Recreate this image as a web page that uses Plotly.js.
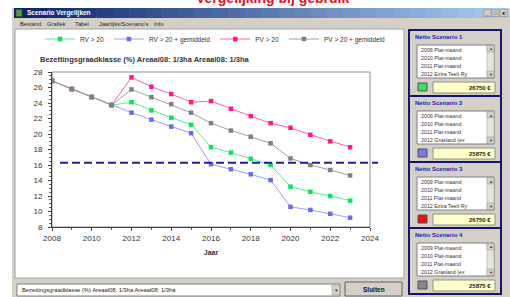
<!DOCTYPE html>
<html><head><meta charset="utf-8">
<script src="https://cdn.plot.ly/plotly-3.0.1.min.js"></script>
<style>html,body{margin:0;padding:0;background:#fff;overflow:hidden}#chart{width:510px;height:297px}</style>
</head><body><div id="chart"></div>
<script>
// ---- data ----
const years = [2008,2009,2010,2011,2012,2013,2014,2015,2016,2017,2018,2019,2020,2021,2022,2023];
const rv20    = [26.85,25.8,24.77,23.74,24.1,23.05,22.1,21.2,18.3,17.6,16.8,16.0,13.2,12.55,12.0,11.4];
const rv20gem = [26.85,25.8,24.77,23.74,22.75,21.85,20.95,20.1,16.1,15.45,14.8,14.05,10.6,10.2,9.7,9.2];
const pv20    = [26.85,25.8,24.77,23.74,27.3,26.1,25.15,24.1,24.25,23.25,22.3,21.4,20.8,19.9,19.05,18.3];
const pv20gem = [26.85,25.8,24.77,23.74,25.75,24.75,23.85,22.75,21.4,20.45,19.65,18.8,16.85,16.0,15.35,14.65];
const threshold = 16.3;
const seriesNames = ['RV > 20','RV > 20 + gemiddeld','PV > 20','PV > 20 + gemiddeld'];
const xTicks = [2008,2010,2012,2014,2016,2018,2020,2022,2024];
const yTicks = [8,10,12,14,16,18,20,22,24,26,28];
const chartTitle = 'Bezettingsgraadklasse (%) Areaal08: 1/3ha Areaal08: 1/3ha';
const xTitle = 'Jaar';
const windowTitle = 'Scenario Vergelijken';
const menuItems = ['Bestand','Grafiek','Tabel','Jaarlijks/Scenario\'s','Info'];
const scenarioTitles = ['Netto Scenario 1','Netto Scenario 2','Netto Scenario 3','Netto Scenario 4'];
const scenarioValues = ['26750 €','25875 €','26750 €','25875 €'];
const scenarioLines = [
  ['2009 Plat-maand','2010 Plat-maand','2011 Plat-maand','2012 Extra Teelt Ry'],
  ['2009 Plat-maand','2010 Plat-maand','2011 Plat-maand','2012 Grasland (ex'],
  ['2009 Plat-maand','2010 Plat-maand','2011 Plat-maand','2012 Extra Teelt Ry'],
  ['2009 Plat-maand','2010 Plat-maand','2011 Plat-maand','2012 Grasland (ex']
];

// ---- styles ----
const W=510,H=297,L=52,R=140,T=72,B=70;
const PW=W-L-R, PH=H-T-B;
const px=x=>(x-L)/PW, py=y=>(H-B-y)/PH;
const FONT='Liberation Sans, Arial, sans-serif';
const lineCols=['#50f090','#9c9cff','#ff60a8','#a0a0a0'];
const markCols=['#10e060','#6a6af0','#ff1888','#808080'];
const sqCols=['#40e060','#7a7ae8','#ee1010','#888888'];
const allSeries=[rv20,rv20gem,pv20,pv20gem];

const traces = allSeries.map((s,i)=>({
  x: years, y: s, name: seriesNames[i], type:'scatter', mode:'lines+markers',
  line:{color:lineCols[i], width:1},
  marker:{color:markCols[i], size:4.5, symbol:'square'}
}));

const shapes=[], ann=[];
function rect(x0,y0,x1,y1,fill,lc,lw,layer){
  shapes.push({type:'rect',xref:'paper',yref:'paper',x0:px(x0),x1:px(x1),y0:py(y1),y1:py(y0),
    fillcolor:fill,line:{color:lc||'rgba(0,0,0,0)',width:lw===undefined?0:lw},layer:layer||'below'});
}
function txt(x,y,t,size,color,anchor,bold,extra){
  ann.push(Object.assign({xref:'paper',yref:'paper',x:px(x),y:py(y),text:bold?'<b>'+t+'</b>':t,showarrow:false,
    xanchor:anchor||'left',yanchor:'middle',font:{family:FONT,size:size,color:color}},extra||{}));
}
// window
rect(12,8,510,297,'#d4d0c8');
// title bar gradient
const c0=[10,36,106], c1=[166,202,240], N=30;
for(let k=0;k<N;k++){
  const f=k/(N-1); const c=c0.map((v,j)=>Math.round(v+(c1[j]-v)*f));
  const xa=14+(508-14)*k/N, xb=14+(508-14)*(k+1)/N+0.5;
  rect(xa,8,xb,18,'rgb('+c.join(',')+')');
}
rect(16,9.5,22,16.5,'#5a9a40','#2a4a20',0.5);
txt(25,13,windowTitle,6.5,'#ffffff','left',true);
['_','□','x'].forEach((s,k)=>{rect(484+k*8,9.5,491+k*8,16.5,'#d4d0c8','#808080',0.5); txt(487.5+k*8,13,s,5.5,'#000','center',true);});
// menu
const menuX=[18,45,73,97,152];
menuItems.forEach((m,k)=>txt(menuX[k],24,m,5.8,'#222'));
// chart panel
rect(15,29,404,278,'#ffffff','#a0a0a0',1);
// right panel groups
for(let i=0;i<4;i++){
  const t0=30+66*i;
  rect(409,t0,501,t0+66,'#d4d0c8','#14146e',2);
  txt(413,t0+7,scenarioTitles[i],6,'#1a1ab0','left',true);
  rect(417,t0+15,494,t0+48,'#ffffff','#808080',1);
  scenarioLines[i].forEach((l,k)=>txt(419,t0+20+k*8,l,5.3,'#333'));
  rect(487,t0+15.5,494,t0+47.5,'#e6e4de','#a0a0a0',0.5);
  rect(487,t0+15.5,494,t0+22,'#d4d0c8','#909090',0.5);
  rect(487,t0+41,494,t0+47.5,'#d4d0c8','#909090',0.5);
  txt(490.5,t0+19,'▲',4,'#333','center');
  txt(490.5,t0+44,'▼',4,'#333','center');
  rect(418,t0+53,427,t0+61,sqCols[i],'#505050',1);
  rect(433,t0+52,495,t0+63,'#ffffc8','#909090',1);
  txt(493,t0+57.5,scenarioValues[i],6,'#222','right',true);
}
// bottom combobox and button
rect(17,284,340,296,'#ffffff','#808080',1);
txt(20,290,chartTitle,5.8,'#222');
rect(332,285,339.5,295,'#d4d0c8','#909090',0.5);
txt(335.8,290,'▼',4.5,'#333','center');
rect(345,282,402,296,'#d4d0c8','#606060',1);
txt(373.5,289,'Sluiten',6.5,'#111','center',true);
// red heading, mostly above the visible area as in the reference
txt(272,1,'Vergelijking bij gebruik',14,'#e81020','center',true,{yanchor:'bottom',yshift:-7});
// plot frame
shapes.push({type:'rect',xref:'paper',yref:'paper',x0:0,x1:1,y0:0,y1:1,line:{color:'#909090',width:1},layer:'below'});
// threshold dashed line
shapes.push({type:'line',xref:'paper',yref:'y',x0:px(60),x1:px(378),y0:threshold,y1:threshold,
  line:{color:'#1e1e9a',width:2,dash:'8px,4px'},layer:'above'});

const layout={
  width:W,height:H,margin:{l:L,r:R,t:T,b:B,pad:0},
  paper_bgcolor:'#ffffff',plot_bgcolor:'rgba(0,0,0,0)',
  font:{family:FONT,size:7,color:'#333'},
  title:{text:'<b>'+chartTitle+'</b>',x:40/W,xanchor:'left',xref:'container',y:1-59/H,yanchor:'middle',yref:'container',
    font:{family:FONT,size:7.5,color:'#333'}},
  showlegend:true,
  legend:{orientation:'h',x:px(40),y:py(39),xanchor:'left',yanchor:'middle',bgcolor:'rgba(0,0,0,0)',
    font:{family:FONT,size:6.5,color:'#333'},itemwidth:30,traceorder:'normal'},
  xaxis:{range:[2008,2024],tickvals:xTicks,ticktext:xTicks.map(String),showgrid:false,zeroline:false,
    showline:true,linecolor:'#404040',linewidth:1,ticks:'outside',ticklen:3,tickcolor:'#404040',
    minor:{dtick:1,ticklen:2,tickcolor:'#606060',ticks:'outside'},
    tickfont:{family:FONT,size:8,color:'#333'},automargin:false,fixedrange:true,
    title:{text:'<b>'+xTitle+'</b>',font:{family:FONT,size:7,color:'#333'},standoff:8}},
  yaxis:{range:[8,28],tickvals:yTicks,ticktext:yTicks.map(String),showgrid:false,zeroline:false,
    showline:true,linecolor:'#404040',linewidth:1,ticks:'outside',ticklen:3,tickcolor:'#404040',
    minor:{dtick:0.5,ticklen:2,tickcolor:'#606060',ticks:'outside'},
    tickfont:{family:FONT,size:8,color:'#333'},automargin:false,fixedrange:true,ticklabelstandoff:4},
  shapes:shapes,annotations:ann
};
Plotly.newPlot('chart',traces,layout,{displayModeBar:false,staticPlot:true});
</script></body></html>
